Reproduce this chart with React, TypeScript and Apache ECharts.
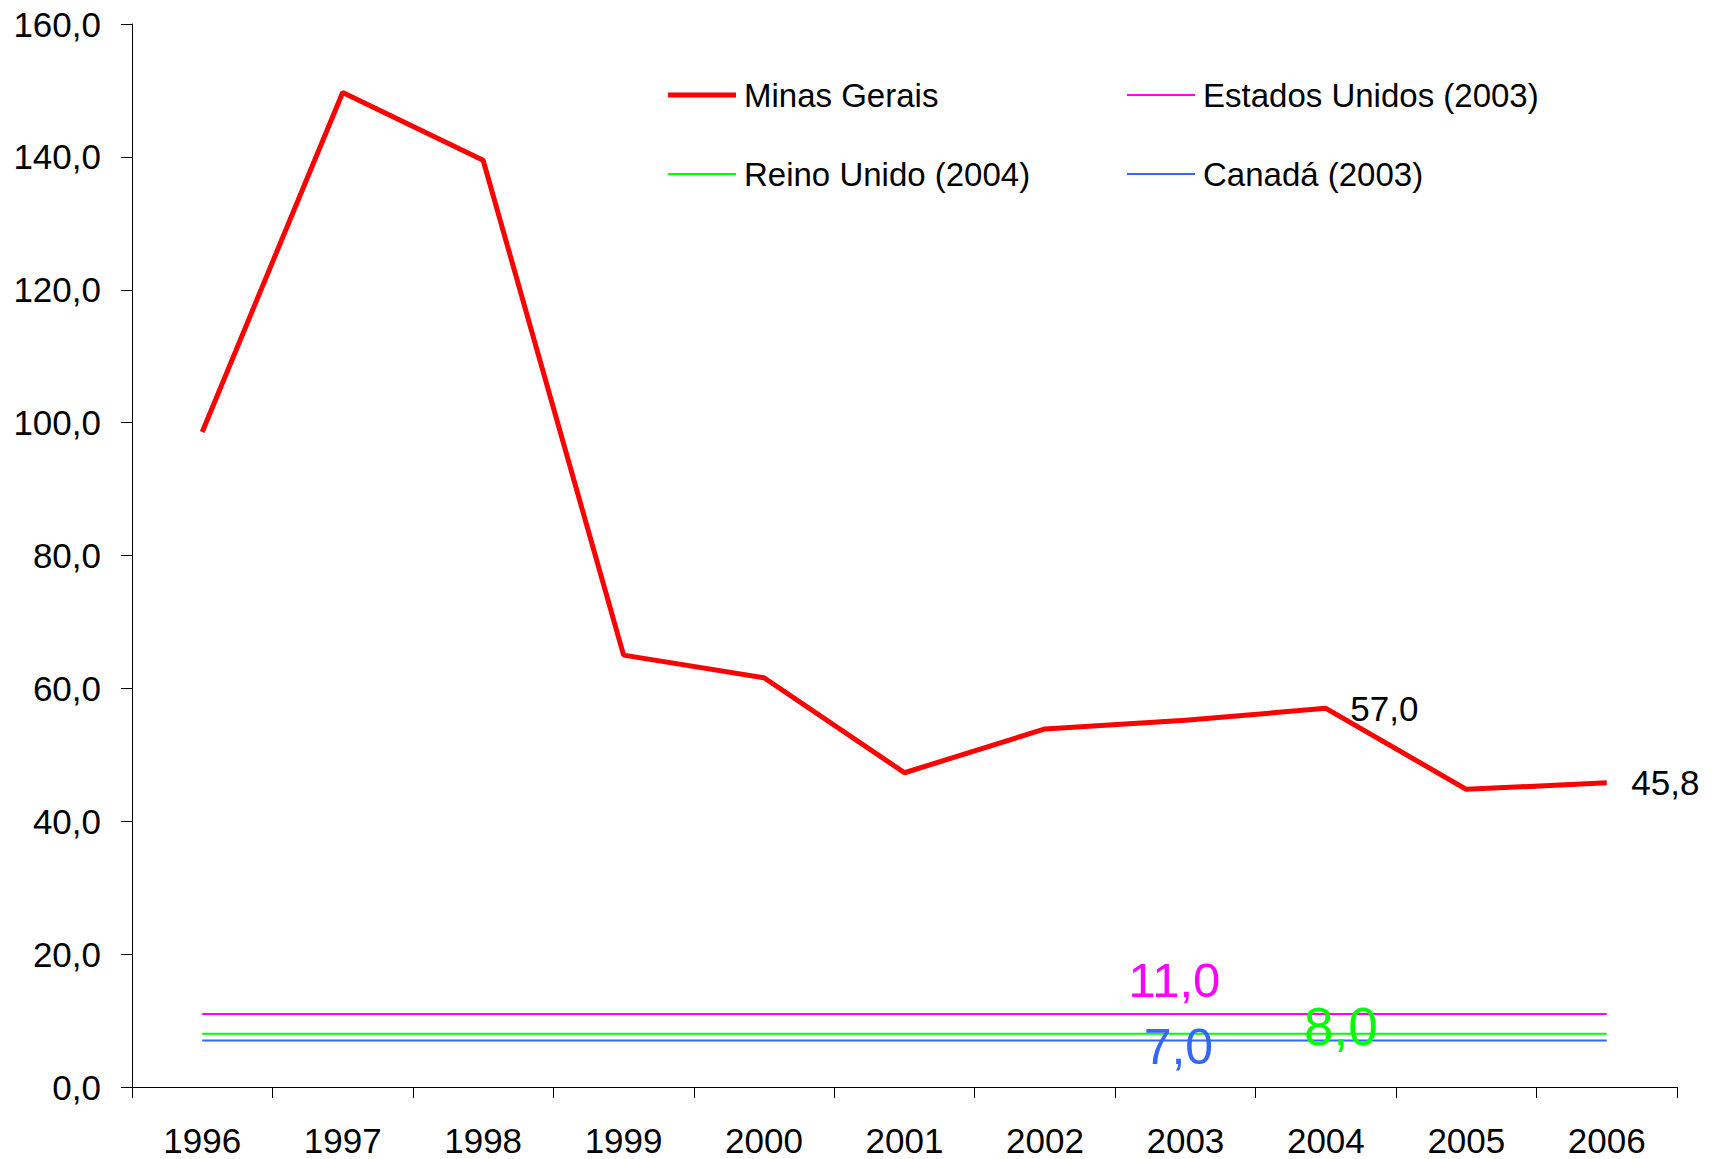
import React, { useEffect, useRef } from 'react';
import * as echarts from 'echarts';

const categories = ['1996', '1997', '1998', '1999', '2000', '2001', '2002', '2003', '2004', '2005', '2006'];
const minasGerais = [98.6, 149.7, 139.5, 65.0, 61.6, 47.3, 53.9, 55.2, 57.0, 44.8, 45.8];
const estadosUnidos = [11, 11, 11, 11, 11, 11, 11, 11, 11, 11, 11];
const reinoUnido = [8, 8, 8, 8, 8, 8, 8, 8, 8, 8, 8];
const canada = [7, 7, 7, 7, 7, 7, 7, 7, 7, 7, 7];
const yMin = 0;
const yMax = 160;
const yInterval = 20;

const FONT = '"Liberation Sans", Arial, sans-serif';
const fmt = (v: number) => v.toFixed(1).replace('.', ',');

const hiddenSymbol = { symbol: 'circle', symbolSize: 1, itemStyle: { color: 'rgba(0,0,0,0)' } };

export default function App() {
  const ref = useRef<HTMLDivElement>(null);
  useEffect(() => {
    if (!ref.current) return;
    const chart = echarts.init(ref.current, undefined, { renderer: 'svg' });
    const legendBase = {
      orient: 'horizontal',
      padding: 0,
      itemWidth: 68,
      icon: 'rect',
      selectedMode: false,
      textStyle: { fontFamily: FONT, fontSize: 33, color: '#000', lineHeight: 34, padding: [0, 0, 0, 3] },
    };
    chart.setOption({
      animation: false,
      backgroundColor: '#fff',
      textStyle: { fontFamily: FONT },
      grid: { left: 132, right: 35, top: 24, bottom: 72, containLabel: false },
      legend: [
        { ...legendBase, data: ['Minas Gerais'], left: 668, top: 78, itemHeight: 5 },
        { ...legendBase, data: ['Estados Unidos (2003)'], left: 1127, top: 78, itemHeight: 2 },
        { ...legendBase, data: ['Reino Unido (2004)'], left: 668, top: 157, itemHeight: 2 },
        { ...legendBase, data: ['Canadá (2003)'], left: 1127, top: 157, itemHeight: 2 },
      ],
      xAxis: {
        type: 'category',
        data: categories,
        boundaryGap: true,
        axisLine: { lineStyle: { color: '#000', width: 1 } },
        axisTick: { show: true, length: 11, inside: false, lineStyle: { color: '#000' } },
        axisLabel: { fontFamily: FONT, fontSize: 35, color: '#000', margin: 36, interval: 0 },
        splitLine: { show: false },
      },
      yAxis: {
        type: 'value',
        min: yMin,
        max: yMax,
        interval: yInterval,
        axisLine: { show: true, lineStyle: { color: '#000', width: 1 } },
        axisTick: { show: true, length: 11, lineStyle: { color: '#000' } },
        axisLabel: { fontFamily: FONT, fontSize: 35, color: '#000', margin: 31, formatter: (v: number) => fmt(v) },
        splitLine: { show: false },
      },
      series: [
        {
          name: 'Minas Gerais',
          type: 'line',
          data: minasGerais,
          symbol: 'none',
          color: '#FF0000',
          lineStyle: { color: '#FF0000', width: 5 },
          z: 5,
          markPoint: {
            ...hiddenSymbol,
            label: { show: true, position: 'right', distance: 24, fontFamily: FONT, fontSize: 35, color: '#000', formatter: (p: any) => fmt(p.value) },
            data: [
              { coord: [categories[8], minasGerais[8]], value: minasGerais[8] },
              { coord: [categories[10], minasGerais[10]], value: minasGerais[10] },
            ],
          },
        },
        {
          name: 'Estados Unidos (2003)',
          type: 'line',
          data: estadosUnidos,
          symbol: 'none',
          color: '#FF00FF',
          lineStyle: { color: '#FF00FF', width: 2 },
          markPoint: {
            ...hiddenSymbol,
            label: { show: true, position: 'inside', offset: [-11, -34], fontFamily: FONT, fontSize: 49, color: '#FF00FF', formatter: (p: any) => fmt(p.value) },
            data: [{ coord: [categories[7], estadosUnidos[7]], value: estadosUnidos[7] }],
          },
        },
        {
          name: 'Reino Unido (2004)',
          type: 'line',
          data: reinoUnido,
          symbol: 'none',
          color: '#00FF00',
          lineStyle: { color: '#00FF00', width: 2 },
          markPoint: {
            ...hiddenSymbol,
            label: { show: true, position: 'inside', offset: [15, -7], fontFamily: FONT, fontSize: 53, color: '#00FF00', formatter: (p: any) => fmt(p.value) },
            data: [{ coord: [categories[8], reinoUnido[8]], value: reinoUnido[8] }],
          },
        },
        {
          name: 'Canadá (2003)',
          type: 'line',
          data: canada,
          symbol: 'none',
          color: '#3366FF',
          lineStyle: { color: '#3366FF', width: 2 },
          markPoint: {
            ...hiddenSymbol,
            label: { show: true, position: 'inside', offset: [-7, 7], fontFamily: FONT, fontSize: 50, color: '#3366FF', formatter: (p: any) => fmt(p.value) },
            data: [{ coord: [categories[7], canada[7]], value: canada[7] }],
          },
        },
      ],
    });
    return () => chart.dispose();
  }, []);
  return (
    <div style={{ position: 'fixed', left: 0, top: 0, width: 1712, height: 1159, background: '#fff' }}>
      <div ref={ref} style={{ width: 1712, height: 1159 }} />
    </div>
  );
}
